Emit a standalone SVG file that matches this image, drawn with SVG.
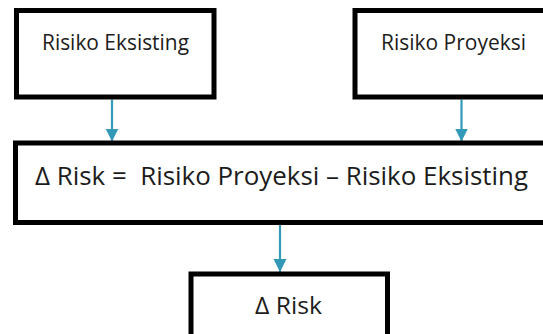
<svg xmlns="http://www.w3.org/2000/svg" width="543" height="334" viewBox="0 0 543 334">
  <defs>
    <marker id="arr" markerUnits="userSpaceOnUse" markerWidth="14" markerHeight="14" refX="13" refY="7" orient="auto">
      <path d="M0,0.5 L13,7 L0,13.5 z" fill="#3399B8"/>
    </marker>
  </defs>
  <style>
    .box { fill: #ffffff; stroke: #000000; stroke-width: 5; }
    .lbl { font-family: "Open Sans", "Liberation Sans", sans-serif; fill: #1c1c1c; }
    .conn { stroke: #3399B8; stroke-width: 2.2; fill: none; marker-end: url(#arr); }
  </style>
  <rect width="543" height="334" fill="#ffffff"/>
  <g id="connectors">
    <line class="conn" x1="112" y1="99.5" x2="112" y2="141.5"/>
    <line class="conn" x1="461.5" y1="99.5" x2="461.5" y2="141.5"/>
    <line class="conn" x1="280" y1="225" x2="280" y2="272"/>
  </g>
  <g id="risiko-eksisting">
    <rect class="box" x="16.5" y="10.5" width="197.5" height="86.5"/>
    <text class="lbl" x="42" y="50" font-size="22" textLength="147" lengthAdjust="spacingAndGlyphs">Risiko Eksisting</text>
  </g>
  <g id="risiko-proyeksi">
    <rect class="box" x="355" y="10.5" width="200" height="86.5"/>
    <text class="lbl" x="381" y="50" font-size="22" textLength="145" lengthAdjust="spacingAndGlyphs">Risiko Proyeksi</text>
  </g>
  <g id="delta-formula">
    <rect class="box" x="15.5" y="143" width="540" height="79.5"/>
    <text class="lbl" x="35" y="184.5" font-size="26" textLength="493" lengthAdjust="spacingAndGlyphs" xml:space="preserve">Δ Risk =  Risiko Proyeksi – Risiko Eksisting</text>
  </g>
  <g id="delta-risk">
    <rect class="box" x="191" y="274" width="196.5" height="80"/>
    <text class="lbl" x="255" y="314" font-size="24.5" textLength="67" lengthAdjust="spacingAndGlyphs">Δ Risk</text>
  </g>
</svg>
